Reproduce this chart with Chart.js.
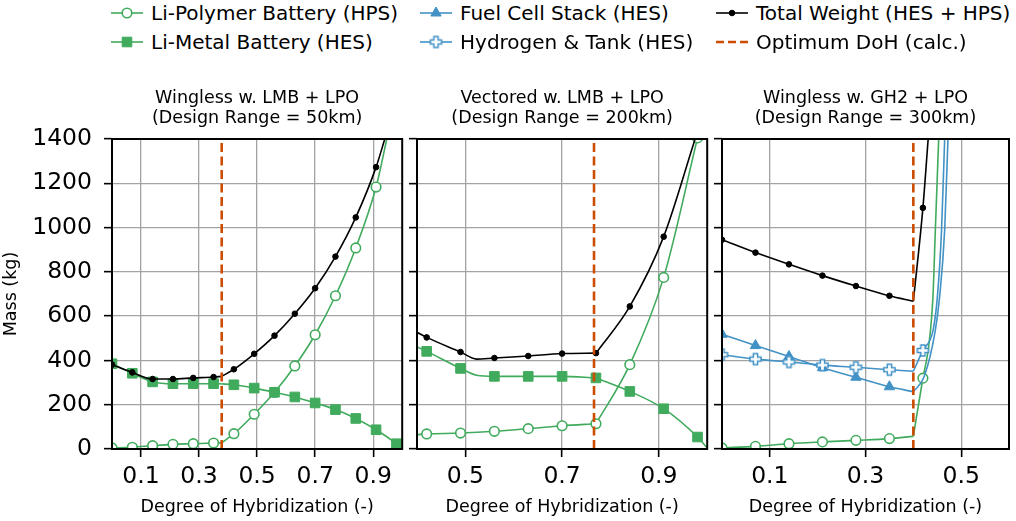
<!DOCTYPE html>
<html>
<head>
<meta charset="utf-8">
<script src="https://cdn.jsdelivr.net/npm/chart.js@4.4.1/dist/chart.umd.min.js"></script>
<style>
  body { margin: 0; background: #fff; font-family: 'DejaVu Sans', sans-serif; }
  #wrap { position: relative; width: 1016px; height: 521px; overflow: hidden; }
  #wrap canvas.panel { position: absolute; top: 80px; }
  .item { position: absolute; height: 24px; display: flex; align-items: center; font-size: 20px; line-height: 24px; white-space: nowrap; color: #000; }
  .item canvas { margin-right: 8px; }
</style>
</head>
<body>
<div id="wrap">
  <canvas id="c1" class="panel" width="410" height="441" style="left:0px"></canvas>
  <canvas id="c2" class="panel" width="310" height="441" style="left:405px"></canvas>
  <canvas id="c3" class="panel" width="306" height="441" style="left:710px"></canvas>
</div>
<script>
// axes
const yTicks = [0, 200, 400, 600, 800, 1000, 1200, 1400];
const p1Ticks = [0.1, 0.3, 0.5, 0.7, 0.9];
const p2Ticks = [0.5, 0.7, 0.9];
const p3Ticks = [0.1, 0.3, 0.5];
const titles = [
  ['Wingless w. LMB + LPO', '(Design Range = 50km)'],
  ['Vectored w. LMB + LPO', '(Design Range = 200km)'],
  ['Wingless w. GH2 + LPO', '(Design Range = 300km)'],
];
const optimumDoh = [0.378, 0.766, 0.4];

// panel 1 - wingless, LMB + LPO, 50 km
const p1MarkX = [0, 0.07, 0.14, 0.21, 0.28, 0.35, 0.42, 0.49, 0.56, 0.63, 0.70, 0.77, 0.84, 0.91, 0.98];
const p1Lpo = [5, 8, 15, 21, 24, 27, 69, 157, 256, 375, 516, 692, 908, 1183, null];
const p1Lmb = [385, 342, 303, 295, 295, 295, 290, 275, 256, 235, 208, 178, 138, 87, 24];
const p1Total = [381, 346, 316, 316, 321, 325, 360, 430, 512, 611, 726, 869, 1046, 1273, null];
// unmarked points on the curves (kink at optimum, edge crossings)
const p1LpoExtra = [[0.378, 28], [0.947, 1400]];
const p1LmbExtra = [[0.378, 294], [1.0, 2]];
const p1TotalExtra = [[0.378, 328], [0.94, 1400]];

// panel 2 - vectored, LMB + LPO, 200 km
const p2MarkX = [0.42, 0.49, 0.56, 0.63, 0.70, 0.77, 0.84, 0.91, 0.98];
const p2Lpo = [68, 72, 80, 92, 105, 114, 381, 775, 1405];
const p2Lmb = [441, 364, 328, 328, 328, 321, 260, 182, 54];
const p2Total = [504, 438, 411, 420, 431, 433, 644, 959, null];
const p2LpoExtra = [[0.4, 65]];
const p2LmbExtra = [[0.4, 461], [0.523, 333], [1.0, 5]];
const p2TotalExtra = [[0.4, 527], [0.523, 406], [0.975, 1400]];

// panel 3 - wingless, GH2 + LPO, 300 km
const p3MarkX = [0, 0.07, 0.14, 0.21, 0.28, 0.35, 0.42];
const p3Lpo = [5, 12, 24, 32, 39, 47, 320];
const p3Fc = [518, 467, 418, 367, 324, 281, null];
const p3H2 = [426, 406, 393, 379, 369, 358, 445];
const p3Total = [945, 887, 834, 783, 736, 692, 1089];
const p3LpoExtra = [[0.4, 57], [0.432, 462], [0.441, 688], [0.446, 989], [0.453, 1400]];
const p3FcExtra = [[0.4, 259], [0.4227, 327], [0.446, 537], [0.455, 688], [0.4655, 989], [0.4724, 1400]];
const p3H2Extra = [[0.4, 351], [0.4413, 537], [0.4503, 688], [0.459, 989], [0.4655, 1400]];
const p3TotalExtra = [[0.4, 667], [0.431, 1400]];

const GREEN = '#41ab5d';
const BLUE = '#4292c6';
const RED = '#cc4c02';

Chart.defaults.font.family = "'DejaVu Sans', sans-serif";
Chart.defaults.color = '#000';

function plusMarker(color) {
  const c = document.createElement('canvas');
  c.width = 15; c.height = 15;
  const g = c.getContext('2d');
  const m = 7.5, a = 5.6, w = 2.1;
  g.beginPath();
  g.moveTo(m - w, m - a); g.lineTo(m + w, m - a); g.lineTo(m + w, m - w); g.lineTo(m + a, m - w);
  g.lineTo(m + a, m + w); g.lineTo(m + w, m + w); g.lineTo(m + w, m + a); g.lineTo(m - w, m + a);
  g.lineTo(m - w, m + w); g.lineTo(m - a, m + w); g.lineTo(m - a, m - w); g.lineTo(m - w, m - w);
  g.closePath();
  g.fillStyle = '#fff'; g.fill();
  g.strokeStyle = color; g.lineWidth = 1.5; g.stroke();
  return c;
}

const styles = {
  lpo: { label: 'Li-Polymer Battery (HPS)', color: GREEN, pointStyle: 'circle', radius: 4.8, fill: '#fff', borderWidth: 1.6 },
  lmb: { label: 'Li-Metal Battery (HES)', color: GREEN, pointStyle: 'rect', radius: 6.8, fill: GREEN, borderWidth: 1 },
  fc: { label: 'Fuel Cell Stack (HES)', color: BLUE, pointStyle: 'triangle', radius: 6, fill: BLUE, borderWidth: 1 },
  h2: { label: 'Hydrogen & Tank (HES)', color: BLUE, pointStyle: plusMarker(BLUE), radius: 7, fill: '#fff', borderWidth: 0 },
  total: { label: 'Total Weight (HES + HPS)', color: '#000', pointStyle: 'circle', radius: 2.8, fill: '#000', borderWidth: 1 },
  opt: { label: 'Optimum DoH (calc.)', color: RED, dash: [8, 4], width: 2.4 },
};

// legend (html, 3 columns x 2 rows)
const legendLayout = [['lpo', 111, 1], ['lmb', 111, 30], ['fc', 420, 1], ['h2', 420, 30], ['total', 716, 1], ['opt', 716, 30]];
legendLayout.forEach(([key, left, top]) => {
  const st = styles[key];
  const item = document.createElement('div');
  item.className = 'item';
  item.style.left = left + 'px';
  item.style.top = top + 'px';
  const icon = document.createElement('canvas');
  icon.width = 32; icon.height = 24;
  const ctx = icon.getContext('2d');
  ctx.strokeStyle = st.color;
  ctx.lineWidth = st.width || 1.6;
  if (st.dash) ctx.setLineDash(st.dash);
  ctx.beginPath(); ctx.moveTo(0, 12); ctx.lineTo(32, 12); ctx.stroke();
  ctx.setLineDash([]);
  if (st.pointStyle) {
    ctx.fillStyle = st.fill;
    ctx.lineWidth = st.borderWidth;
    Chart.helpers.drawPoint(ctx, { pointStyle: st.pointStyle, radius: st.radius, borderWidth: st.borderWidth, rotation: 0 }, 16, 12);
  }
  item.appendChild(icon);
  item.appendChild(document.createTextNode(st.label));
  document.getElementById('wrap').appendChild(item);
});

function points(xs, ys) {
  return xs.map((x, i) => ({ x, y: ys[i] })).filter(p => p.y !== null);
}

function buildDatasets(series, kinkX, optX) {
  const sets = [{
    data: [{ x: optX, y: 0 }, { x: optX, y: 1400 }],
    borderColor: RED, borderWidth: 2.6, borderDash: [9, 4.5], pointRadius: 0,
  }];
  series.forEach(([st, xs, ys, extra]) => {
    sets.push({
      data: points(xs, ys), showLine: false,
      pointStyle: st.pointStyle, pointRadius: st.radius,
      pointBackgroundColor: st.fill, pointBorderColor: st.color, pointBorderWidth: st.borderWidth,
    });
    const all = points(xs, ys).concat(extra.map(([x, y]) => ({ x, y }))).sort((a, b) => a.x - b.x);
    // split at the optimum so the kink stays sharp
    [all.filter(p => p.x <= kinkX), all.filter(p => p.x >= kinkX)].forEach(piece => {
      sets.push({
        data: piece, borderColor: st.color, borderWidth: 1.6, pointRadius: 0,
        cubicInterpolationMode: 'monotone',
      });
    });
  });
  return sets;
}

const frame = {
  id: 'frame',
  afterDatasetsDraw(chart) {
    const { ctx, chartArea: a } = chart;
    ctx.save();
    ctx.strokeStyle = '#000';
    ctx.lineWidth = 2;
    ctx.strokeRect(a.left, a.top, a.right - a.left, a.bottom - a.top);
    ctx.restore();
  },
};

const grid = { color: '#a3a3a3', lineWidth: 1.3, tickColor: '#000', tickLength: 8, tickWidth: 1.6 };

function makePanel(id, idx, xMin, xMax, xTicks, series, kinkX, showY, padRight) {
  new Chart(document.getElementById(id), {
    type: 'line',
    data: { datasets: buildDatasets(series, kinkX, optimumDoh[idx]) },
    plugins: [frame],
    options: {
      responsive: false,
      animation: false,
      events: [],
      layout: { padding: { left: 0, right: padRight, top: 0, bottom: 0 } },
      plugins: {
        legend: { display: false },
        tooltip: { enabled: false },
        title: {
          display: true, text: titles[idx], fullSize: false,
          font: { size: 17.5, weight: 'normal', lineHeight: 1.15 },
          padding: { top: 8.5, bottom: 10.25 },
        },
      },
      scales: {
        x: {
          type: 'linear', min: xMin, max: xMax,
          afterBuildTicks: s => { s.ticks = xTicks.map(v => ({ value: v })); },
          afterFit: s => { s.height = 72; },
          ticks: { font: { size: 23.5 }, padding: 6, maxRotation: 0, autoSkip: false, callback: v => v.toFixed(1) },
          grid: grid,
          border: { display: false },
          title: { display: true, text: 'Degree of Hybridization (-)', font: { size: 17.5 }, padding: { top: 0, bottom: 3.5 } },
        },
        y: {
          min: 0, max: 1400,
          afterBuildTicks: s => { s.ticks = yTicks.map(v => ({ value: v })); },
          afterFit: s => { s.width = showY ? 112 : 12; },
          ticks: { display: showY, font: { size: 23.5 }, padding: 12, callback: v => String(v) },
          grid: grid,
          border: { display: false },
          title: { display: showY, text: 'Mass (kg)', font: { size: 17.5 }, padding: { top: 0.5, bottom: 0 } },
        },
      },
    },
  });
}

makePanel('c1', 0, 0, 1.0, p1Ticks, [
  [styles.total, p1MarkX, p1Total, p1TotalExtra],
  [styles.lmb, p1MarkX, p1Lmb, p1LmbExtra],
  [styles.lpo, p1MarkX, p1Lpo, p1LpoExtra],
], 0.378, true, 7);

makePanel('c2', 1, 0.4, 1.0, p2Ticks, [
  [styles.total, p2MarkX, p2Total, p2TotalExtra],
  [styles.lmb, p2MarkX, p2Lmb, p2LmbExtra],
  [styles.lpo, p2MarkX, p2Lpo, p2LpoExtra],
], 0.77, false, 7);

makePanel('c3', 2, 0, 0.6, p3Ticks, [
  [styles.total, p3MarkX, p3Total, p3TotalExtra],
  [styles.h2, p3MarkX, p3H2, p3H2Extra],
  [styles.fc, p3MarkX, p3Fc, p3FcExtra],
  [styles.lpo, p3MarkX, p3Lpo, p3LpoExtra],
], 0.4, false, 4);
</script>
</body>
</html>
